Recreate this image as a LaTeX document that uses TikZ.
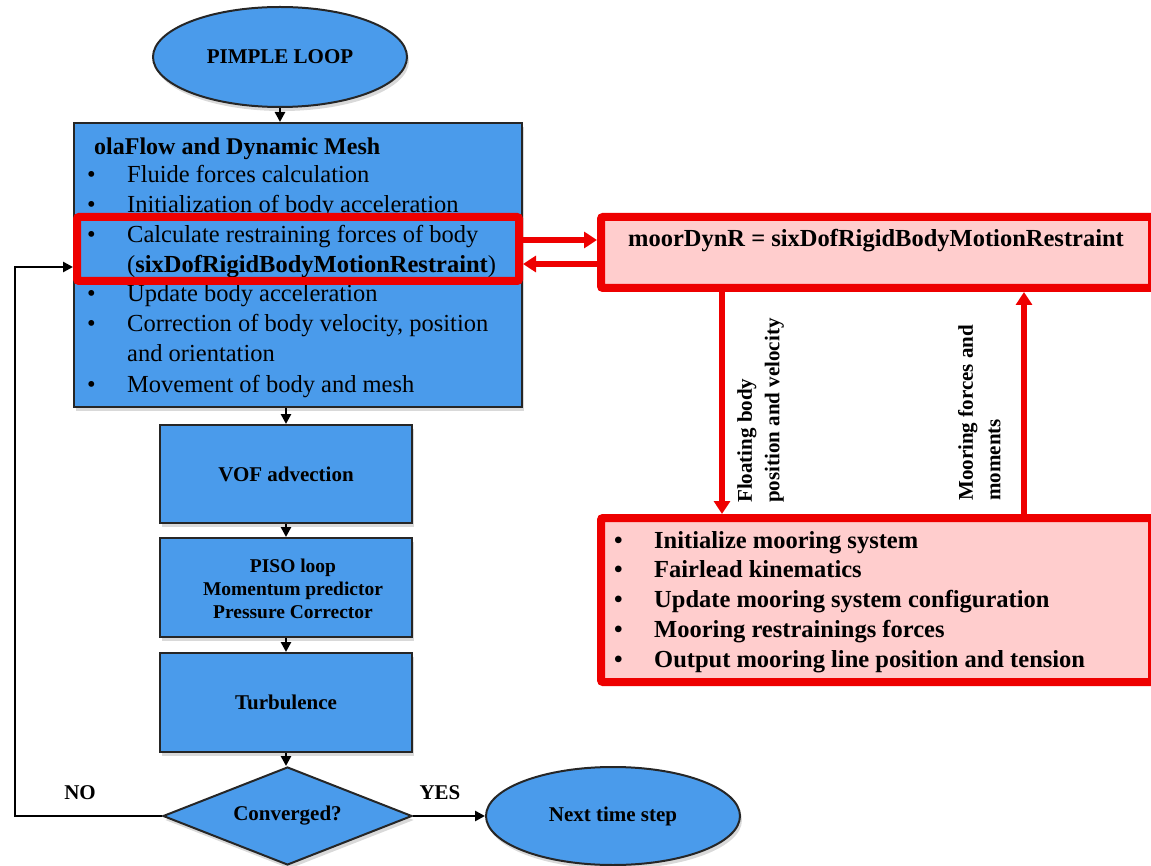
\documentclass[tikz,border=0pt]{standalone}
\usepackage{fontspec}
\setmainfont{Liberation Serif}
\usetikzlibrary{shapes.geometric,arrows.meta,shadows}
\definecolor{boxblue}{RGB}{74,155,235}
\definecolor{pinkfill}{RGB}{255,205,205}
\definecolor{mred}{RGB}{238,0,0}
\tikzset{
  bluebox/.style={draw=black!85, line width=2pt, fill=boxblue,
    drop shadow={shadow xshift=2pt, shadow yshift=-4pt, opacity=0.3}},
  redbox/.style={draw=mred, line width=8pt, rounded corners=2pt},
  blk/.style={draw=black, line width=2.5pt, -{Triangle[length=10pt,width=10pt]}},
  redarr/.style={draw=mred, line width=5.5pt, -{Triangle[length=13pt,width=16pt]}},
  lbl/.style={font=\fontsize{21}{25}\selectfont\bfseries, inner sep=0pt},
  itm/.style={font=\fontsize{24.5}{29.6}\selectfont, anchor=base west, inner sep=0pt},
  itmb/.style={itm, font=\fontsize{24.5}{29.6}\selectfont\bfseries},
  vlab/.style={lbl, rotate=90, anchor=north west, align=left, font=\fontsize{21}{27.5}\selectfont\bfseries}
}
\begin{document}
\begin{tikzpicture}[x=1pt,y=-1pt]
\useasboundingbox (0,0) rectangle (1151,866);

% ---------- left column ----------
\node[bluebox, ellipse, minimum width=254pt, minimum height=100pt, lbl] (pimple) at (280,57) {PIMPLE LOOP};
\node[bluebox, minimum width=448pt, minimum height=284pt] (big) at (298,265) {};

\node[itmb, font=\fontsize{24}{29}\selectfont\bfseries] (btitle) at (94,155) {olaFlow and Dynamic Mesh};
\node[itm] (bb1) at (87,183) {\textbullet};
\node[itm] (bt1) at (127,183) {Fluide forces calculation};
\node[itm] (bb2) at (87,213) {\textbullet};
\node[itm] (bt2) at (127,213) {Initialization of body acceleration};
\node[itm] (bb3) at (87,243) {\textbullet};
\node[itm] (bt3) at (127,243) {Calculate restraining forces of body};
\node[itm] (bt3b) at (127,273) {(\textbf{sixDofRigidBodyMotionRestraint})};
\node[itm] (bb4) at (87,302) {\textbullet};
\node[itm] (bt4) at (127,302) {Update body acceleration};
\node[itm] (bb5) at (87,332) {\textbullet};
\node[itm] (bt5) at (127,332) {Correction of body velocity, position};
\node[itm] (bt5b) at (127,362) {and orientation};
\node[itm] (bb6) at (87,392) {\textbullet};
\node[itm] (bt6) at (127,392) {Movement of body and mesh};

\node[bluebox, minimum width=252pt, minimum height=98pt, lbl] (vof) at (286,474) {VOF advection};
\node[bluebox, minimum width=252pt, minimum height=99pt] (piso) at (286,587.5) {};
\node[lbl, align=center, font=\fontsize{19.5}{23}\selectfont\bfseries] (pisotext) at (293,589) {PISO loop\\Momentum predictor\\Pressure Corrector};
\node[bluebox, minimum width=252pt, minimum height=99pt, lbl] (turb) at (286,702.5) {Turbulence};
\node[bluebox, diamond, aspect=2.5, minimum width=249pt, minimum height=98pt, lbl] (conv) at (287.5,816) {Converged?};
\node[bluebox, ellipse, minimum width=254pt, minimum height=98pt, lbl] (next) at (613,816) {Next time step};

\node[lbl] (no) at (80,793) {NO};
\node[lbl] (yes) at (440,793) {YES};

% ---------- red highlight and pink boxes ----------
\node[redbox, minimum width=442pt, minimum height=64pt] (hl) at (298,249) {};
\node[redbox, fill=pinkfill, minimum width=551pt, minimum height=71pt] (ptop) at (876.5,252.5) {};
\node[redbox, fill=pinkfill, minimum width=551pt, minimum height=164pt] (pbot) at (876.5,600) {};

\node[itmb, anchor=base] (ptext) at (876,247) {moorDynR = sixDofRigidBodyMotionRestraint};

\foreach \yy/\mytxt [count=\i] in {548/Initialize mooring system, 577/Fairlead kinematics,
   607/Update mooring system configuration, 637/Mooring restrainings forces,
   667/Output mooring line position and tension}{
  \node[itmb] (mb\i) at (614,\yy) {\textbullet};
  \node[itmb] (mt\i) at (654,\yy) {\mytxt};
}

\node[vlab] (flab) at (737,503) {Floating body\\position and velocity};
\node[vlab] (mlab) at (958,501) {Mooring forces and\\moments};

% ---------- connectors ----------
\draw[blk] (pimple.south) -- (pimple.south |- big.north);
\draw[blk] (vof.north |- big.south) -- (vof.north);
\draw[blk] (vof.south) -- (piso.north);
\draw[blk] (piso.south) -- (turb.north);
\draw[blk] (turb.south) -- (turb.south |- conv.north);
\draw[blk] (conv.east) -- (next.west);
\coordinate (fbc) at (15,816);
\draw[blk] (conv.west) -- (fbc) |- (hl.west |- 0,267);

\draw[redarr] (hl.east |- 0,240) -- (ptop.west |- 0,240);
\draw[redarr] (ptop.west |- 0,264) -- (hl.east |- 0,264);
\draw[redarr] (ptop.south -| 722,0) -- (pbot.north -| 722,0);
\draw[redarr] (pbot.north -| 1024,0) -- (ptop.south -| 1024,0);
\end{tikzpicture}
\end{document}
